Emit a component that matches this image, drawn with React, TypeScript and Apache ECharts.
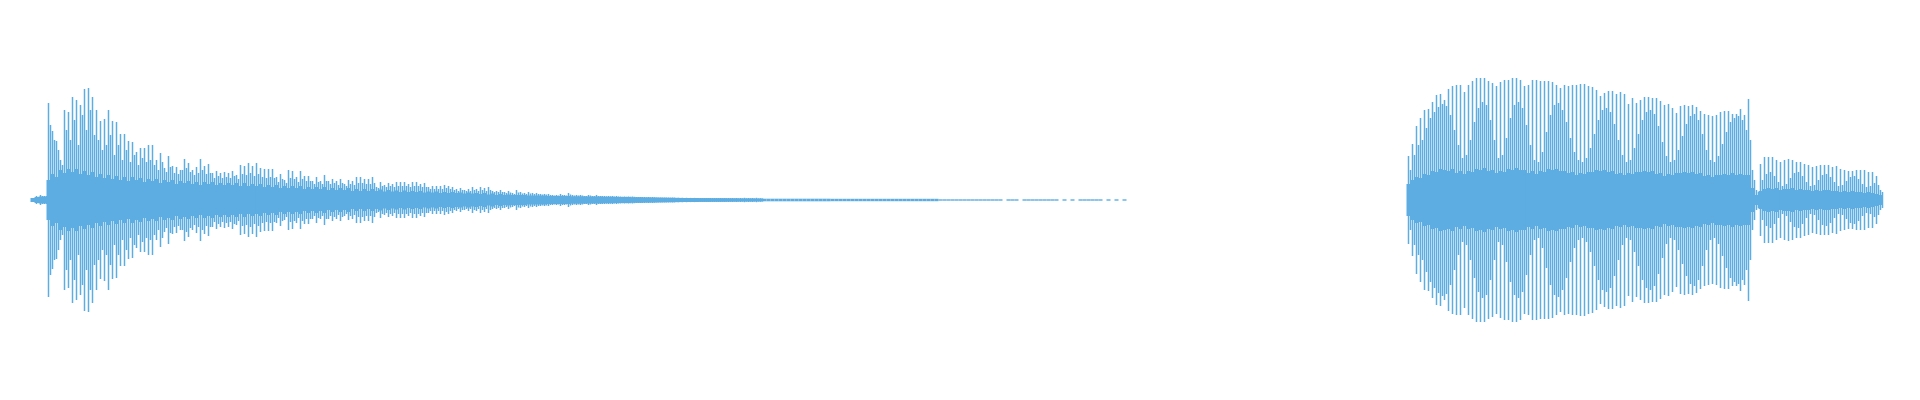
import React, { useEffect, useRef } from "react";
import * as echarts from "echarts";

// Waveform samples: one slot per time step. Left take starts at slot 0, right take at slot 344.
const LEFT_START = 0;
const RIGHT_START = 344;
const SLOT_COUNT = 463;

// Peak (longest) sample amplitude per slot
const peaksLeft = [
  2, 4, 5, 4, 97, 69, 59, 40, 90, 88,
  103, 100, 95, 111, 112, 103, 90, 79, 81, 90,
  79, 78, 66, 66, 59, 58, 48, 52, 52, 55,
  55, 40, 47, 32, 44, 34, 33, 30, 41, 37,
  30, 33, 41, 34, 36, 27, 29, 27, 28, 27,
  29, 25, 35, 34, 37, 34, 37, 32, 31, 31,
  31, 23, 26, 20, 30, 29, 23, 29, 24, 24,
  19, 23, 19, 25, 19, 21, 19, 21, 16, 20,
  19, 23, 23, 21, 21, 23, 13, 18, 15, 17,
  16, 18, 18, 18, 16, 18, 18, 16, 17, 13,
  14, 14, 14, 15, 14, 13, 11, 12, 10, 11,
  13, 11, 13, 12, 13, 9, 9, 10, 8, 9,
  7, 10, 8, 7, 8, 7, 7, 6, 6, 6,
  5, 5, 6, 5, 7, 5, 5, 5, 4, 5,
  4, 5, 4, 4, 4, 4, 4, 3.5, 3.5, 3.5,
  3.5, 3, 3, 3, 3, 3, 2.5, 2.5, 2.5, 2.5,
  2.5, 2, 2, 2, 2, 2, 2, 2, 2, 2,
  2, 2, 2, 2, 2, 2, 2, 2, 2.2, 2,
  2, 2.2, 1.8,
];

// Intermediate sample amplitude per slot (half a slot later)
const midsLeft = [
  2, 3, 4, 4, 75, 60, 50, 35, 70, 60,
  80, 55, 85, 70, 90, 65, 60, 50, 55, 65,
  45, 55, 40, 50, 38, 45, 35, 42, 38, 40,
  35, 30, 38, 28, 33, 27, 26, 30, 32, 28,
  25, 27, 30, 26, 27, 22, 24, 22, 23, 22,
  24, 21, 26, 25, 27, 24, 26, 23, 22, 23,
  22, 18, 21, 17, 22, 21, 18, 21, 19, 19,
  16, 18, 16, 19, 16, 17, 15, 17, 14, 16,
  15, 17, 17, 16, 16, 17, 12, 14, 13, 14,
  13, 14, 14, 14, 13, 14, 14, 13, 13, 11,
  11, 11, 11, 12, 11, 10, 9, 10, 9, 9,
  10, 9, 10, 9, 10, 8, 8, 8, 7, 7.5,
  6, 7.5, 6.5, 6, 6.5, 6, 6, 5.5, 5.5, 5,
  4.5, 4.5, 5, 4.5, 5.5, 4.5, 4.5, 4.5, 4, 4.5,
  4, 4, 4, 3.8, 3.8, 3.6, 3.6, 3.3, 3.3, 3.3,
  3.2, 3, 3, 2.8, 2.8, 2.8, 2.5, 2.5, 2.5, 2.4,
  2.4, 2.2, 2.2, 2.2, 2.1, 2.1, 2, 2, 2, 2,
  2, 2, 1.9, 1.9, 1.9, 1.8, 1.8, 1.8, 1.8, 1.8,
  1.7, 1.7, 1.6,
];

// Dense body amplitude per slot
const coreLeft = [
  2, 3, 3.5, 3.5, 20, 26, 23, 30, 27, 31,
  28, 31, 26, 29, 25, 28, 23, 26, 22, 25,
  21, 24, 20, 23, 19, 23, 20, 22, 18, 21,
  19, 21, 17, 20, 18, 20, 16, 19, 17, 19,
  16, 18, 15, 18, 16, 18, 15, 17, 15, 17,
  15, 17, 14, 17, 14, 16, 14, 16, 13, 15,
  13, 15, 12, 14, 12, 14, 12, 14, 11, 13,
  11, 13, 11, 13, 10, 12, 10, 12, 10, 12,
  9, 11, 9, 11, 9, 11, 9, 10.5, 8.5, 10,
  8.5, 9.5, 8, 9.5, 8, 9, 8, 9, 7.5, 8.5,
  7.5, 8.5, 7, 8, 7, 8, 7, 7.5, 6.5, 7.5,
  6.5, 7, 6, 7, 5.5, 6.5, 5, 6, 5, 5.5,
  5, 5, 5, 5, 4.5, 4.5, 4.5, 4.5, 4.5, 4,
  4, 4, 4, 4, 4, 3.7, 3.7, 3.7, 3.7, 3.5,
  3.5, 3.5, 3.5, 3.2, 3.2, 3.2, 3, 3, 3, 3,
  2.8, 2.8, 2.8, 2.6, 2.6, 2.5, 2.5, 2.4, 2.3, 2.2,
  2.2, 2.2, 2.1, 2, 2, 2, 2, 1.9, 1.9, 1.9,
  1.8, 1.8, 1.8, 1.8, 1.7, 1.7, 1.7, 1.6, 1.6, 1.6,
  1.6, 1.5, 1.5, 1.3, 1.3, 1.3, 1.3, 1.3, 1.3, 1.3,
  1.3, 1.3, 1.3, 1.3, 1.3, 1.3, 1.3, 1.3, 1.3, 1.3,
  1.2, 1.2, 1.2, 1.2, 1.2, 1.2, 1.2, 1.2, 1.2, 1.2,
  1.2, 1.2, 1.2, 1.2, 1.2, 1.2, 1.2, 1.2, 1.2, 1.2,
  1.2, 1.2, 1.2, 1.2, 1.2, 1.2, 1.2, 0.7, 0.7, 0.7,
  0.7, 0.7, 0.7, 0.7, 0.7, 0.7, 0.7, 0.7, 0.7, 0.7,
  0.7, 0.7, 0.7, 0, 0.7, 0.7, 0.7, 0, 0.7, 0.7,
  0.7, 0.7, 0.7, 0.7, 0.7, 0.7, 0.7, 0, 0.7, 0,
  0.7, 0, 0.7, 0.7, 0.7, 0.7, 0.7, 0.7, 0, 0.7,
  0, 0.7, 0, 0.7,
];

const peaksRight = [
  44, 56, 74, 82, 90, 91, 98, 105, 106, 100,
  111, 114, 115, 115, 108, 115, 119, 122, 122, 122,
  119, 117, 114, 118, 120, 120, 122, 122, 120, 114,
  115, 120, 120, 119, 119, 119, 118, 115, 112, 115,
  114, 115, 115, 116, 116, 114, 113, 110, 104, 107,
  109, 109, 106, 108, 106, 96, 102, 97, 100, 103,
  103, 102, 102, 99, 95, 96, 92, 87, 94, 95,
  94, 95, 93, 89, 86, 85, 84, 85, 88, 89,
  89, 86, 86, 91, 85, 101, 30, 10, 36, 43,
  43, 43, 40, 38, 40, 41, 40, 38, 38, 36,
  35, 33, 34, 35, 35, 35, 33, 34, 31, 30,
  29, 29, 30, 30, 30, 28, 28, 24, 10,
];

const midsRight = [
  30, 45, 55, 60, 72, 82, 88, 93, 96, 94,
  85, 70, 55, 42, 45, 60, 78, 92, 98, 95,
  80, 60, 42, 45, 62, 82, 95, 98, 92, 75,
  55, 40, 38, 48, 68, 85, 95, 97, 90, 78,
  62, 48, 40, 38, 42, 52, 66, 80, 90, 92,
  88, 76, 60, 45, 38, 40, 52, 66, 80, 88,
  90, 86, 74, 58, 44, 38, 40, 50, 64, 76,
  84, 86, 80, 66, 50, 40, 38, 44, 56, 68,
  78, 82, 84, 80, 70, 60, 20, 8, 20, 26,
  28, 24, 18, 14, 16, 22, 27, 28, 24, 18,
  14, 15, 20, 25, 26, 23, 18, 14, 15, 19,
  23, 24, 21, 16, 13, 14, 17, 15, 8,
];

const coreRight = [
  16, 20, 23, 22, 26, 25, 29, 28, 31, 30,
  29, 31, 27, 29, 26, 29, 28, 31, 30, 32,
  29, 30, 27, 29, 28, 31, 30, 32, 30, 30,
  27, 29, 26, 29, 28, 31, 30, 31, 29, 29,
  27, 28, 25, 27, 26, 28, 28, 30, 29, 30,
  28, 29, 26, 27, 25, 27, 26, 28, 28, 29,
  28, 29, 26, 27, 24, 26, 25, 27, 27, 28,
  27, 28, 26, 27, 24, 25, 23, 25, 25, 26,
  25, 27, 25, 26, 25, 25, 12, 5, 9, 11,
  12, 11, 12, 10, 11, 11, 12, 10, 11, 10,
  10, 9, 10, 9, 10, 10, 9, 9, 8, 9,
  8, 9, 8, 8, 7, 8, 7, 6, 5,
];

const COLOR = "#5DADE2";

function pairs(left: number[], right: number[], shift: number): number[][] {
  const out: number[][] = [];
  left.forEach((v, k) => out.push([LEFT_START + k + shift, v]));
  right.forEach((v, k) => out.push([RIGHT_START + k + shift, v]));
  return out;
}

function mirrored(name: string, data: number[][], axisIndex: number, width: number) {
  const base = {
    type: "bar",
    xAxisIndex: axisIndex,
    yAxisIndex: 0,
    stack: name,
    barWidth: width,
    large: false,
    silent: true,
    itemStyle: { color: COLOR },
  };
  return [
    { ...base, name: name + "+", data },
    { ...base, name: name + "-", data: data.map(([x, v]) => [x, -v]) },
  ];
}

export default function App() {
  const ref = useRef<HTMLDivElement>(null);
  useEffect(() => {
    if (!ref.current) return;
    const chart = echarts.init(ref.current, undefined, { renderer: "svg" });
    const xAxis = [0, 1, 2].map(() => ({
      type: "value",
      min: 0,
      max: SLOT_COUNT,
      show: false,
      gridIndex: 0,
    }));
    chart.setOption({
      animation: false,
      backgroundColor: "#ffffff",
      grid: { left: 32.5, right: 35.5, top: 40, bottom: 40 },
      xAxis,
      yAxis: { type: "value", min: -160, max: 160, show: false },
      series: [
        ...mirrored("body", pairs(coreLeft, coreRight, 0), 0, 4),
        ...mirrored("mid", pairs(midsLeft, midsRight, 0.5), 1, 1.5),
        ...mirrored("peak", pairs(peaksLeft, peaksRight, 0), 2, 1.5),
      ],
    });
    return () => chart.dispose();
  }, []);
  return (
    <div
      ref={ref}
      style={{ position: "fixed", left: 0, top: 0, width: 1920, height: 400, background: "#fff" }}
    />
  );
}
